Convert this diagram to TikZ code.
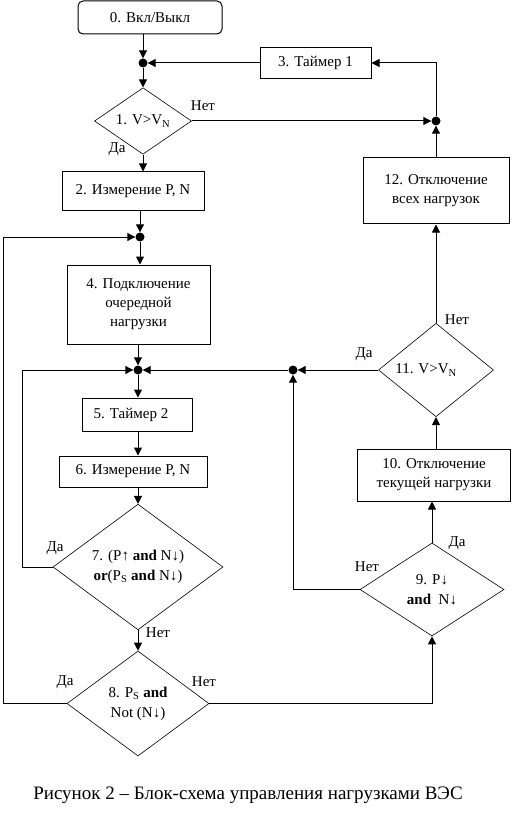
\documentclass[tikz,border=0pt]{standalone}
\usepackage{fontspec}
\setmainfont{Liberation Serif}
\usetikzlibrary{shapes.geometric,arrows.meta}
\tikzset{
  blok/.style={draw,line width=1pt,align=center,inner sep=0pt,
    font=\fontsize{15}{19}\selectfont},
  usl/.style={draw,diamond,line width=0.6pt,align=center,inner sep=0pt,
    font=\fontsize{15}{20}\selectfont},
  uzel/.style={circle,fill,inner sep=0pt,minimum size=9pt},
  strel/.style={line width=1pt,-{Triangle[length=8pt,width=8pt]}},
  linia/.style={line width=1pt},
  otvet/.style={inner sep=0pt,font=\fontsize{15}{18}\selectfont}
}
\begin{document}
\begin{tikzpicture}
    [x=1pt,y=-1pt]
    \useasboundingbox (0,0) rectangle (519,818);
    %blocks
    \node[blok,rounded corners=5pt,minimum width=144pt,minimum height=33pt] (b0) at (150,17.5) {0. Вкл/Выкл};
    \node[uzel] (jA) at (143,63) {};
    \node[usl,minimum width=97pt,minimum height=56pt] (u1) at (143,121) {1. V>V\textsubscript{N}};
    \node[blok,minimum width=142pt,minimum height=39pt] (b2) at (133,191.5) {2. Измерение P, N};
    \node[blok,minimum width=111pt,minimum height=31pt] (b3) at (315.5,63) {3. Таймер 1};
    \node[uzel] (jC) at (436,121) {};
    \node[blok,minimum width=146pt,minimum height=66pt] (b12) at (436,191) {12. Отключение\\всех нагрузок};
    \node[uzel] (jB) at (140,237) {};
    \node[blok,minimum width=143pt,minimum height=79pt] (b4) at (138.5,304.5) {4. Подключение\\очередной\\нагрузки};
    \node[uzel] (jD) at (138,370) {};
    \node[blok,minimum width=110pt,minimum height=33pt] (b5) at (137,414.5) {5. Таймер 2\hspace*{12pt}};
    \node[blok,minimum width=148pt,minimum height=31pt] (b6) at (133,471.5) {6. Измерение P, N};
    \node[usl,minimum width=170pt,minimum height=104pt] (u7) at (138,567) {7. (P↑ \textbf{and} N↓)\\\textbf{or}(P\textsubscript{S} \textbf{and} N↓)};
    \node[usl,minimum width=142pt,minimum height=105pt] (u8) at (138,703.5) {8. P\textsubscript{S} \textbf{and}\\Not (N↓)};
    \node[uzel] (jE) at (293,370) {};
    \node[usl,minimum width=115pt,minimum height=77pt] (u11) at (436,370) {11. V>V\textsubscript{N}\hspace*{20pt}};
    \node[blok,minimum width=153pt,minimum height=52pt] (b10) at (434,475) {10. Отключение\\текущей нагрузки};
    \node[usl,minimum width=144pt,minimum height=93pt] (u9) at (432,589.5) {9. P↓\\\textbf{and}\ \ N↓};
    %loop corners
    \coordinate (lev7) at (22,0);
    \coordinate (lev8) at (3,0);
    %main column
    \draw[strel] (jA |- b0.south) -- (jA);
    \draw[strel] (jA) -- (jA |- u1.north);
    \draw[strel] (u1.south) -- (u1.south |- b2.north);
    \draw[strel] (jB |- b2.south) -- (jB);
    \draw[strel] (jB) -- (jB |- b4.north);
    \draw[strel] (jD |- b4.south) -- (jD);
    \draw[strel] (jD) -- (jD |- b5.north);
    \draw[strel] (jD |- b5.south) -- (jD |- b6.north);
    \draw[strel] (jD |- b6.south) -- (u7.north);
    \draw[strel] (u7.south) -- (u8.north);
    %top loop
    \draw[strel] (b3.west) -- (jA);
    \draw[strel] (u1.east) -- (jC);
    \draw[strel] (b12.north) -- (jC);
    \draw[strel] (jC) -- (jC |- b3.east) -- (b3.east);
    %left loops
    \draw[strel] (u7.west) -- (u7.west -| lev7) |- (jD);
    \draw[strel] (u8.west) -- (u8.west -| lev8) |- (jB);
    %right column
    \draw[strel] (u8.east) -| (u9.south);
    \draw[strel] (u9.north) -- (u9.north |- b10.south);
    \draw[strel] (u11.south |- b10.north) -- (u11.south);
    \draw[strel] (u11.north) -- (b12.south);
    \draw[strel] (u11.west) -- (jE);
    \draw[strel] (u9.west) -| (jE);
    \draw[strel] (jE) -- (jD);
    %answers
    \node[otvet] (n1) at (203,106) {Нет};
    \node[otvet] (d1) at (117,149) {Да};
    \node[otvet] (d7) at (55,548) {Да};
    \node[otvet] (n7) at (158,633) {Нет};
    \node[otvet] (d8) at (65,682) {Да};
    \node[otvet] (n8) at (204,682) {Нет};
    \node[otvet] (n9) at (367,567) {Нет};
    \node[otvet] (d9) at (457,543) {Да};
    \node[otvet] (d11) at (364,354) {Да};
    \node[otvet] (n11) at (457,320) {Нет};
    %caption
    \node[inner sep=0pt,font=\fontsize{19}{23}\selectfont] (cap) at (248,795) {Рисунок 2 -- Блок-схема управления нагрузками ВЭС};
\end{tikzpicture}
\end{document}
